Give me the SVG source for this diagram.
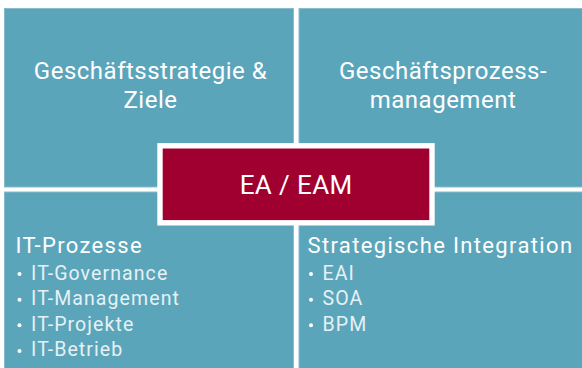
<svg xmlns="http://www.w3.org/2000/svg" width="582" height="368" viewBox="0 0 582 368">
  <style>
    .quad { fill: #5ba5bb; stroke: #86bccc; stroke-width: 1; }
    .core { fill: #a0002f; stroke: #ffffff; stroke-width: 5.4; }
    .head { font-family: Roboto, "Liberation Sans", sans-serif; fill: #ffffff; font-size: 22px; letter-spacing: 1.35px; }
    .title { font-family: Roboto, "Liberation Sans", sans-serif; fill: #ffffff; font-size: 24px; letter-spacing: 0.5px; text-anchor: middle; }
    .item { font-family: Roboto, "Liberation Sans", sans-serif; fill: #e6f1f5; font-size: 19.5px; letter-spacing: 1.1px; }
    .dot { fill: #ffffff; }
  </style>
  <rect width="582" height="368" fill="#ffffff"/>

  <!-- top left: business strategy -->
  <g id="strategie">
    <rect class="quad" x="4.5" y="8.5" width="289" height="178.5"/>
    <text class="title" x="150.5" y="79">Geschäftsstrategie &amp;</text>
    <text class="title" x="150.5" y="108">Ziele</text>
  </g>

  <!-- top right: business process management -->
  <g id="prozessmanagement">
    <rect class="quad" x="299" y="8.5" width="284" height="178.5"/>
    <text class="title" x="443" y="79">Geschäftsprozess-</text>
    <text class="title" x="443" y="108">management</text>
  </g>

  <!-- bottom left: IT processes -->
  <g id="it-prozesse">
    <rect class="quad" x="4.5" y="192" width="289" height="177"/>
    <text class="head" x="15.5" y="253">IT-Prozesse</text>
    <circle class="dot" cx="19.5" cy="274" r="2"/>
    <text class="item" x="31" y="279.5">IT-Governance</text>
    <circle class="dot" cx="19.5" cy="299.7" r="2"/>
    <text class="item" x="31" y="305">IT-Management</text>
    <circle class="dot" cx="19.5" cy="325.3" r="2"/>
    <text class="item" x="31" y="330.7">IT-Projekte</text>
    <circle class="dot" cx="19.5" cy="351" r="2"/>
    <text class="item" x="31" y="356.3">IT-Betrieb</text>
  </g>

  <!-- bottom right: strategic integration -->
  <g id="integration">
    <rect class="quad" x="299" y="192" width="284" height="177"/>
    <text class="head" x="307.5" y="253">Strategische Integration</text>
    <circle class="dot" cx="311" cy="274" r="2"/>
    <text class="item" x="322.5" y="279.5">EAI</text>
    <circle class="dot" cx="311" cy="299.7" r="2"/>
    <text class="item" x="322.5" y="305">SOA</text>
    <circle class="dot" cx="311" cy="325.3" r="2"/>
    <text class="item" x="322.5" y="330.7">BPM</text>
  </g>

  <!-- centre: EA / EAM -->
  <g id="ea-eam">
    <rect class="core" x="160" y="145.8" width="272" height="77"/>
    <text x="296.2" y="194.3" font-family="Roboto, 'Liberation Sans', sans-serif" font-size="26" letter-spacing="0.4" fill="#ffffff" text-anchor="middle">EA / EAM</text>
  </g>
</svg>
